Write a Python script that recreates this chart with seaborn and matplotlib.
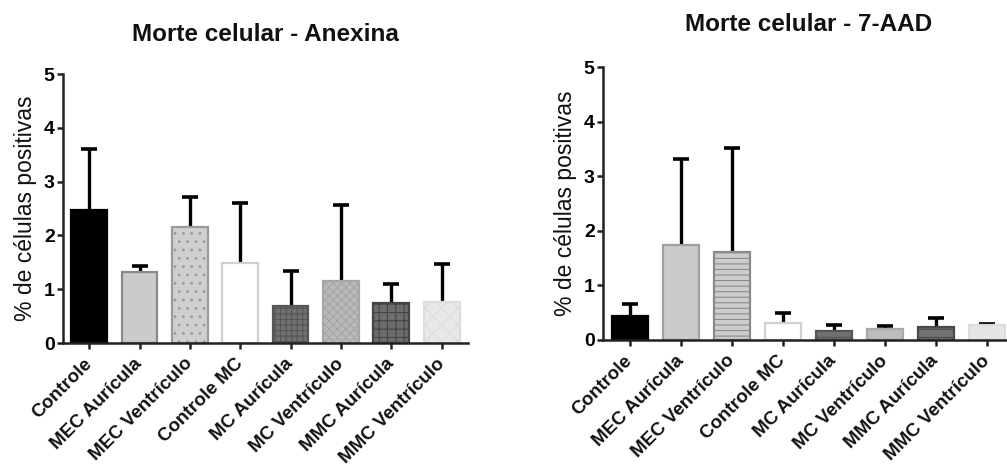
import numpy as np
import pandas as pd
import matplotlib
matplotlib.use("Agg")
import matplotlib.pyplot as plt
import seaborn as sns

# Groups and measurements
groups = ["Controle", "MEC Aurícula", "MEC Ventrículo", "Controle MC",
          "MC Aurícula", "MC Ventrículo", "MMC Aurícula", "MMC Ventrículo"]

anexina_mean = [2.48, 1.32, 2.16, 1.48, 0.69, 1.15, 0.75, 0.76]
anexina_sd = [1.13, 0.11, 0.55, 1.13, 0.65, 1.42, 0.34, 0.70]

aad_mean = [0.44, 1.74, 1.61, 0.31, 0.165, 0.21, 0.23, 0.27]
aad_sd = [0.22, 1.57, 1.90, 0.18, 0.105, 0.04, 0.17, 0.02]

yticks = [0, 1, 2, 3, 4, 5]

# Fill, edge and hatch per group
fills_left = ["#000000", "#cbcbcb", "#cfcfcf", "#ffffff",
              "#707070", "#b9b9b9", "#6c6c6c", "#e8e8e8"]
edges_left = ["#000000", "#8a8a8a", "#9a9a9a", "#d0d0d0",
              "#555555", "#a6a6a6", "#454545", "#dcdcdc"]
hatch_left = [None, None, "..", None, "+++", "xxxx", "++", "xx"]

fills_right = ["#000000", "#cbcbcb", "#cdcdcd", "#ffffff",
               "#707070", "#bdbdbd", "#727272", "#e6e6e6"]
edges_right = ["#000000", "#a0a0a0", "#8a8a8a", "#d0d0d0",
               "#555555", "#a8a8a8", "#4a4a4a", "#dcdcdc"]
hatch_right = [None, None, "---", None, "--", None, "--", None]

sns.set_theme(style="ticks")
plt.rcParams["font.family"] = ["Liberation Sans", "DejaVu Sans"]
plt.rcParams["hatch.linewidth"] = 0.8
plt.rcParams["text.color"] = "black"

fig = plt.figure(figsize=(10.07, 4.73), dpi=100)
ax1 = fig.add_axes([0.0626, 0.2748, 0.402, 0.5687])
ax2 = fig.add_axes([0.5988, 0.2812, 0.409, 0.577])


def draw(ax, mean, sd, fills, edges, hatches, title, title_y, xlim):
    df = pd.DataFrame({"grupo": groups, "valor": mean})
    sns.barplot(data=df, x="grupo", y="valor", hue="grupo", order=groups,
                hue_order=groups, palette=fills, dodge=False, width=0.71,
                errorbar=None, legend=False, ax=ax, zorder=2)
    for patch, ec, h in zip(ax.patches, edges, hatches):
        patch.set_edgecolor(ec)
        patch.set_linewidth(1.6)
        if h:
            patch.set_hatch(h)
    xs = np.arange(len(groups))
    _, caps, _ = ax.errorbar(xs, mean, yerr=[np.zeros(len(sd)), sd],
                             fmt="none", ecolor="black", elinewidth=2.4,
                             capsize=5.5, capthick=2.6, zorder=1)
    # only the upper whisker carries a cap
    caps[0].remove()
    ax.set_ylim(0, 5)
    ax.set_xlim(*xlim)
    ax.set_yticks(yticks)
    ax.set_yticklabels([str(t) for t in yticks], fontsize=14,
                       fontweight="bold", color="black")
    ax.set_xticks(xs)
    ax.set_xticklabels(groups, rotation=45, ha="right", va="center",
                       rotation_mode="anchor", fontsize=13.5,
                       fontweight="bold", color="#111111")
    ax.set_xlabel("")
    ax.set_ylabel("% de células positivas", fontsize=16.5, labelpad=5,
                  color="#111111")
    ax.tick_params(axis="y", direction="out", length=4, width=1.8,
                   color="#222222", pad=2)
    ax.tick_params(axis="x", direction="out", length=4, width=1.8,
                   color="#222222", pad=9)
    for s in ("left", "bottom"):
        ax.spines[s].set_linewidth(1.8)
        ax.spines[s].set_color("#222222")
    sns.despine(ax=ax)
    ax.set_title(title, fontsize=17.5, fontweight="bold", y=title_y,
                 color="#111111")


draw(ax1, anexina_mean, anexina_sd, fills_left, edges_left, hatch_left,
     "Morte celular - Anexina", 1.09, (-0.52, 7.52))
draw(ax2, aad_mean, aad_sd, fills_right, edges_right, hatch_right,
     "Morte celular - 7-AAD", 1.1, (-0.53, 7.55))

fig.savefig("out.png", dpi=100, facecolor="white")
